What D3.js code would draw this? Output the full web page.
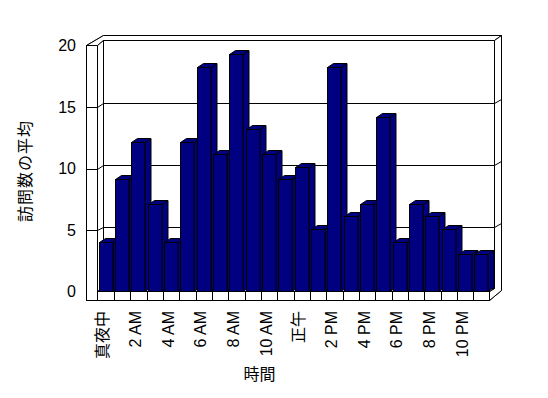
<!DOCTYPE html>
<html>
<head>
<meta charset="utf-8">
<script src="https://cdn.jsdelivr.net/npm/d3@7"></script>
<style>
  body { margin: 0; background: #fff; }
  text { font-family: "Liberation Sans", Arial, "Noto Sans CJK JP", sans-serif; font-size: 16px; fill: #000; }
</style>
</head>
<body>
<svg id="chart" width="548" height="398"></svg>
<script>
// hours of the day (categories)
const hours = ['真夜中', '1 AM', '2 AM', '3 AM', '4 AM', '5 AM', '6 AM', '7 AM', '8 AM', '9 AM', '10 AM', '11 AM',
  '正午', '1 PM', '2 PM', '3 PM', '4 PM', '5 PM', '6 PM', '7 PM', '8 PM', '9 PM', '10 PM', '11 PM'];
// average visits per hour
const visits = [4, 9, 12, 7, 4, 12, 18, 11, 19, 13, 11, 9, 10, 5, 18, 6, 7, 14, 4, 7, 6, 5, 3, 3];
// labelled hours on the x axis
const hourTicks = ['真夜中', '2 AM', '4 AM', '6 AM', '8 AM', '10 AM', '正午', '2 PM', '4 PM', '6 PM', '8 PM', '10 PM'];
const yTicks = [0, 5, 10, 15, 20];

const svg = d3.select('#chart');

// frame of the 3d box
const outerL = 86.5, innerL = 97.5, backL = 103.5, backR = 494.5, outerR = 501.5;
const floorR = 489.5, floorTop = 291.5, floorBot = 300.5;
const dx = 6, dy = -4;

const x = d3.scaleBand().domain(hours).range([innerL, floorR]);
const yFront = d3.scaleLinear().domain([0, 20]).range([floorTop, 45.5]);
const yBack = d3.scaleLinear().domain([0, 20]).range([288.5, 40.5]);
const yBar = d3.scaleLinear().domain([0, 20]).range([291.5, 41.5]);

const line = d3.line();
const poly = pts => line(pts) + 'Z';

const frame = svg.append('g')
  .attr('fill', '#fff')
  .attr('stroke', '#000')
  .attr('stroke-width', 1);

// outer outline of walls + floor
frame.append('path')
  .attr('d', poly([[outerL, 45.5], [backL, 35.5], [outerR, 35.5], [outerR, 290.5], [floorR, floorBot], [outerL, floorBot]]));
// top of walls
frame.append('path')
  .attr('d', poly([[outerL, 45.5], [innerL, 45.5], [backL, 40.5], [backR, 40.5], [outerR, 35.5], [backL, 35.5]]));
// left wall front face
frame.append('rect')
  .attr('x', outerL).attr('y', 45.5)
  .attr('width', innerL - outerL).attr('height', floorBot - 45.5);
// left wall inner face
frame.append('path')
  .attr('d', poly([[innerL, 45.5], [backL, 40.5], [backL, 288.5], [innerL, floorTop]]));
// back wall
frame.append('rect')
  .attr('x', backL).attr('y', 40.5)
  .attr('width', backR - backL).attr('height', 288.5 - 40.5);
// right side of back wall and floor
frame.append('path')
  .attr('d', poly([[backR, 40.5], [outerR, 35.5], [outerR, 290.5], [floorR, floorBot], [floorR, floorTop], [backR, 288.5]]));
// floor top
frame.append('path')
  .attr('d', poly([[innerL, floorTop], [floorR, floorTop], [backR, 288.5], [backL, 288.5]]));
// floor front
frame.append('rect')
  .attr('x', innerL).attr('y', floorTop)
  .attr('width', floorR - innerL).attr('height', floorBot - floorTop);

// gridlines
const grid = svg.append('g').attr('stroke', '#000').attr('fill', 'none');
grid.selectAll('path.grid')
  .data(yTicks.filter(v => v > 0 && v < 20))
  .enter()
  .append('path')
  .attr('class', 'grid')
  .attr('d', v => line([
    [outerL, Math.round(yFront(v)) + 0.5],
    [innerL, Math.round(yFront(v)) + 0.5],
    [backL, Math.round(yBack(v)) + 0.5],
    [backR, Math.round(yBack(v)) + 0.5],
    [outerR, Math.round(yBack(v)) - 3.5]
  ]));

// floor dividers between hours
grid.selectAll('line.div')
  .data(hours.slice(1))
  .enter()
  .append('line')
  .attr('x1', d => Math.round(x(d)) + 0.5)
  .attr('x2', d => Math.round(x(d)) + 0.5)
  .attr('y1', floorTop)
  .attr('y2', floorBot);

// bars
const bw = 13.5;
const bars = svg.append('g')
  .attr('fill', '#000080')
  .attr('stroke', '#000')
  .attr('stroke-linejoin', 'miter');

hours.forEach((h, i) => {
  const xl = Math.round(x(h) + 1) + 0.5;
  const xr = xl + bw;
  const yt = Math.round(yBar(visits[i])) + 0.5;
  const yb = floorTop;
  const g = bars.append('g');
  g.append('path').attr('d', poly([[xr, yt], [xr + dx, yt + dy], [xr + dx, yb + dy], [xr, yb]]));
  g.append('path').attr('d', poly([[xl, yt], [xl + dx, yt + dy], [xr + dx, yt + dy], [xr, yt]]));
  g.append('rect').attr('x', xl).attr('y', yt).attr('width', bw).attr('height', yb - yt);
});

// y axis labels
const yAxis = svg.append('g')
  .attr('transform', 'translate(76,0)')
  .call(d3.axisLeft(yFront).tickValues(yTicks).tickSize(0).tickPadding(0));
yAxis.select('.domain').remove();
yAxis.selectAll('text').style('font-size', '16px').style('font-family', '"Liberation Sans", Arial, sans-serif');

// x axis labels (rotated)
svg.append('g')
  .selectAll('text')
  .data(hourTicks)
  .enter()
  .append('text')
  .attr('transform', d => `translate(${x(d) + x.bandwidth() / 2 - 3},311) rotate(-90)`)
  .attr('text-anchor', 'end')
  .attr('dominant-baseline', 'central')
  .text(d => d);

// axis titles
svg.append('text')
  .attr('transform', 'translate(25,171) rotate(-90)')
  .attr('text-anchor', 'middle')
  .attr('dominant-baseline', 'central')
  .style('letter-spacing', '1px')
  .text('訪問数の平均');

svg.append('text')
  .attr('x', 259.5)
  .attr('y', 374)
  .attr('text-anchor', 'middle')
  .attr('dominant-baseline', 'central')
  .text('時間');
</script>
</body>
</html>
